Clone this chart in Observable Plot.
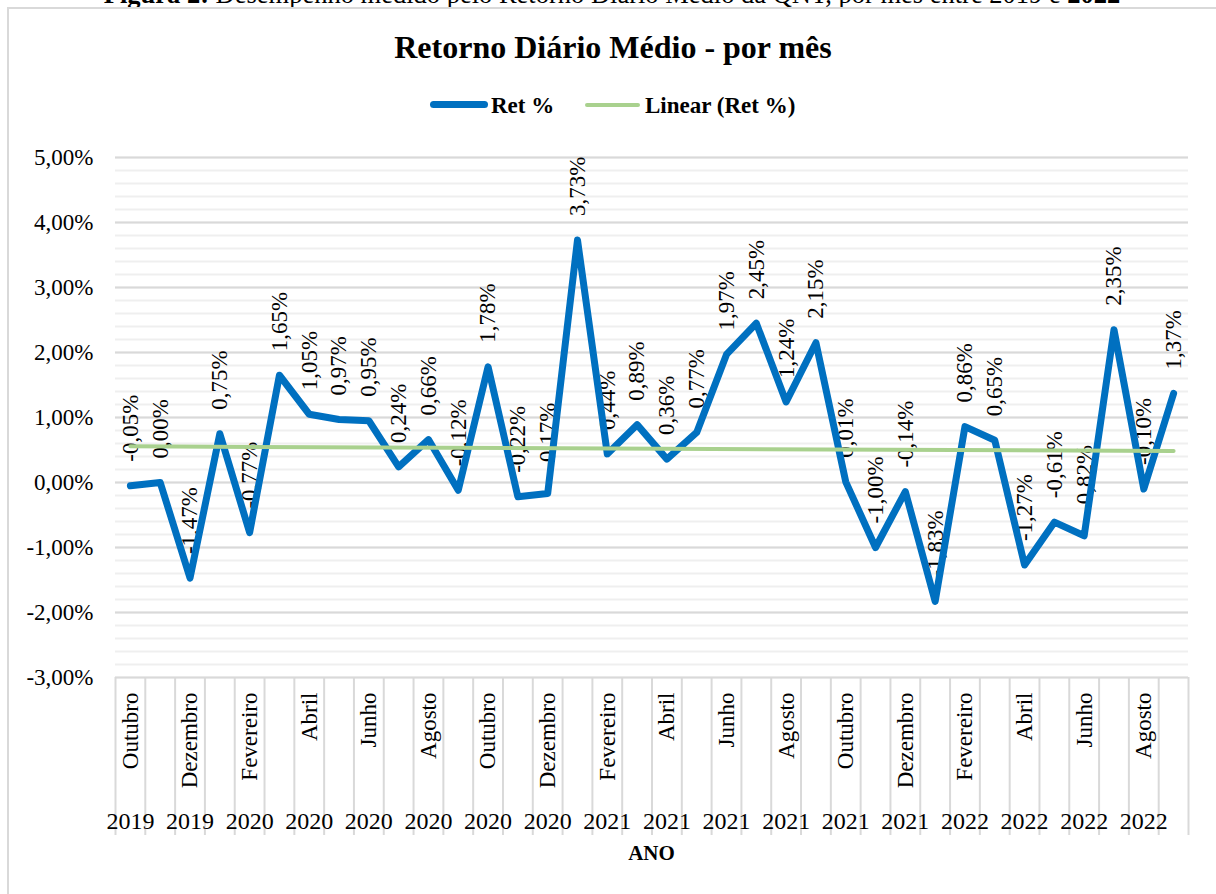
<!DOCTYPE html>
<html>
<head>
<meta charset="utf-8">
<script src="https://cdn.jsdelivr.net/npm/d3@7"></script>
<script src="https://cdn.jsdelivr.net/npm/@observablehq/plot@0.6"></script>
<style>
  body { margin: 0; background: #fff; font-family: "Liberation Serif", "Times New Roman", serif; color: #000; }
  #wrap { position: relative; width: 1216px; height: 894px; overflow: hidden; background: #fff; }
  #caption { position: absolute; left: 0; width: 1224px; top: -19px; text-align: center; font-size: 26.5px; line-height: 1; white-space: nowrap; }
  #frame { position: absolute; left: 7px; top: 7px; width: 1240px; height: 920px; border: 2px solid #d9d9d9; box-sizing: border-box; }
  #title { position: absolute; left: 0; width: 1226px; top: 31px; text-align: center; font-weight: bold; font-size: 32px; line-height: 1; }
  .leg { position: absolute; font-weight: bold; font-size: 23px; line-height: 1; top: 94px; white-space: nowrap; }
  .sw { position: absolute; }
  #chart { position: absolute; left: 0; top: 130px; }
  #xlabel { position: absolute; left: 0; width: 1303px; top: 843px; text-align: center; font-weight: bold; font-size: 21px; line-height: 1; }
</style>
</head>
<body>
<div id="wrap">
  <div id="caption"><b>Figura 2:</b> Desempenho medido pelo Retorno Diário Médio da QNT, por mês entre 2019 e <b>2022</b></div>
  <div id="frame"></div>
  <div id="title">Retorno Diário Médio - por mês</div>
  <div class="sw" style="left:430px;top:101px;width:58px;height:7px;border-radius:4px;background:#0070C0"></div>
  <div class="leg" style="left:491px">Ret %</div>
  <div class="sw" style="left:585px;top:103px;width:55px;height:4px;border-radius:2px;background:#A9D18E"></div>
  <div class="leg" style="left:645px">Linear (Ret %)</div>
  <div id="chart"></div>
  <div id="xlabel">ANO</div>
</div>
<script>
// Months (Oct 2019 – Sep 2022)
const meses = [
  "Outubro","Novembro","Dezembro",
  "Janeiro","Fevereiro","Março","Abril","Maio","Junho","Julho","Agosto","Setembro","Outubro","Novembro","Dezembro",
  "Janeiro","Fevereiro","Março","Abril","Maio","Junho","Julho","Agosto","Setembro","Outubro","Novembro","Dezembro",
  "Janeiro","Fevereiro","Março","Abril","Maio","Junho","Julho","Agosto","Setembro"
];
const anos = [
  "2019","2019","2019",
  "2020","2020","2020","2020","2020","2020","2020","2020","2020","2020","2020","2020",
  "2021","2021","2021","2021","2021","2021","2021","2021","2021","2021","2021","2021",
  "2022","2022","2022","2022","2022","2022","2022","2022","2022"
];
// Ret % (average daily return per month)
const ret = [
  -0.05, 0.00, -1.47, 0.75, -0.77, 1.65, 1.05, 0.97, 0.95, 0.24,
  0.66, -0.12, 1.78, -0.22, -0.17, 3.73, 0.44, 0.89, 0.36, 0.77,
  1.97, 2.45, 1.24, 2.15, 0.01, -1.00, -0.14, -1.83, 0.86, 0.65,
  -1.27, -0.61, -0.82, 2.35, -0.10, 1.37
];
const yMajor = [-3, -2, -1, 0, 1, 2, 3, 4, 5];
const yMinor = d3.range(-3, 5.0001, 0.2);

const data = ret.map((v, i) => ({i, v, mes: meses[i], ano: anos[i]}));
const labelled = d3.range(0, meses.length, 2);
const bounds = d3.range(-0.5, meses.length, 1);
const pct = v => v.toFixed(2).replace(".", ",") + "%";
const fam = "'Liberation Serif', 'Times New Roman', serif";

const chart = Plot.plot({
  width: 1216,
  height: 764,
  marginTop: 27,
  marginBottom: 217,
  marginLeft: 115,
  marginRight: 28,
  style: {fontFamily: fam, fontSize: "23px", color: "#000", background: "transparent", overflow: "visible"},
  x: {type: "linear", domain: [-0.5, meses.length - 0.5], label: null},
  y: {domain: [-3, 5], label: null},
  marks: [
    Plot.ruleY(yMinor, {stroke: "#efefef", strokeWidth: 2}),
    Plot.ruleY(yMajor, {stroke: "#d9d9d9", strokeWidth: 2}),
    Plot.axisY(yMajor, {tickSize: 0, tickPadding: 22, tickFormat: pct, fontSize: 23, fontFamily: fam, label: null}),
    Plot.axisX(bounds, {tickSize: 158, stroke: "#d9d9d9", strokeWidth: 2, tickFormat: () => "", label: null}),
    Plot.axisX(labelled, {tickSize: 0, tickPadding: 15, tickRotate: -90, tickFormat: i => meses[i], fontSize: 23, fontFamily: fam, label: null}),
    Plot.axisX(labelled, {tickSize: 0, tickPadding: 134, tickFormat: i => anos[i], fontSize: 24, fontFamily: fam, label: null}),
    Plot.text(data, {x: "i", y: "v", text: d => pct(d.v), rotate: -90, textAnchor: "start", dy: -24, fontSize: 23, fontFamily: fam, fill: "#000"}),
    Plot.line(data, {x: "i", y: "v", stroke: "#0070C0", strokeWidth: 7, strokeLinejoin: "round", strokeLinecap: "round"}),
    Plot.linearRegressionY(data, {x: "i", y: "v", stroke: "#A9D18E", strokeWidth: 4, ci: 0})
  ]
});
document.getElementById("chart").appendChild(chart);
</script>
</body>
</html>
